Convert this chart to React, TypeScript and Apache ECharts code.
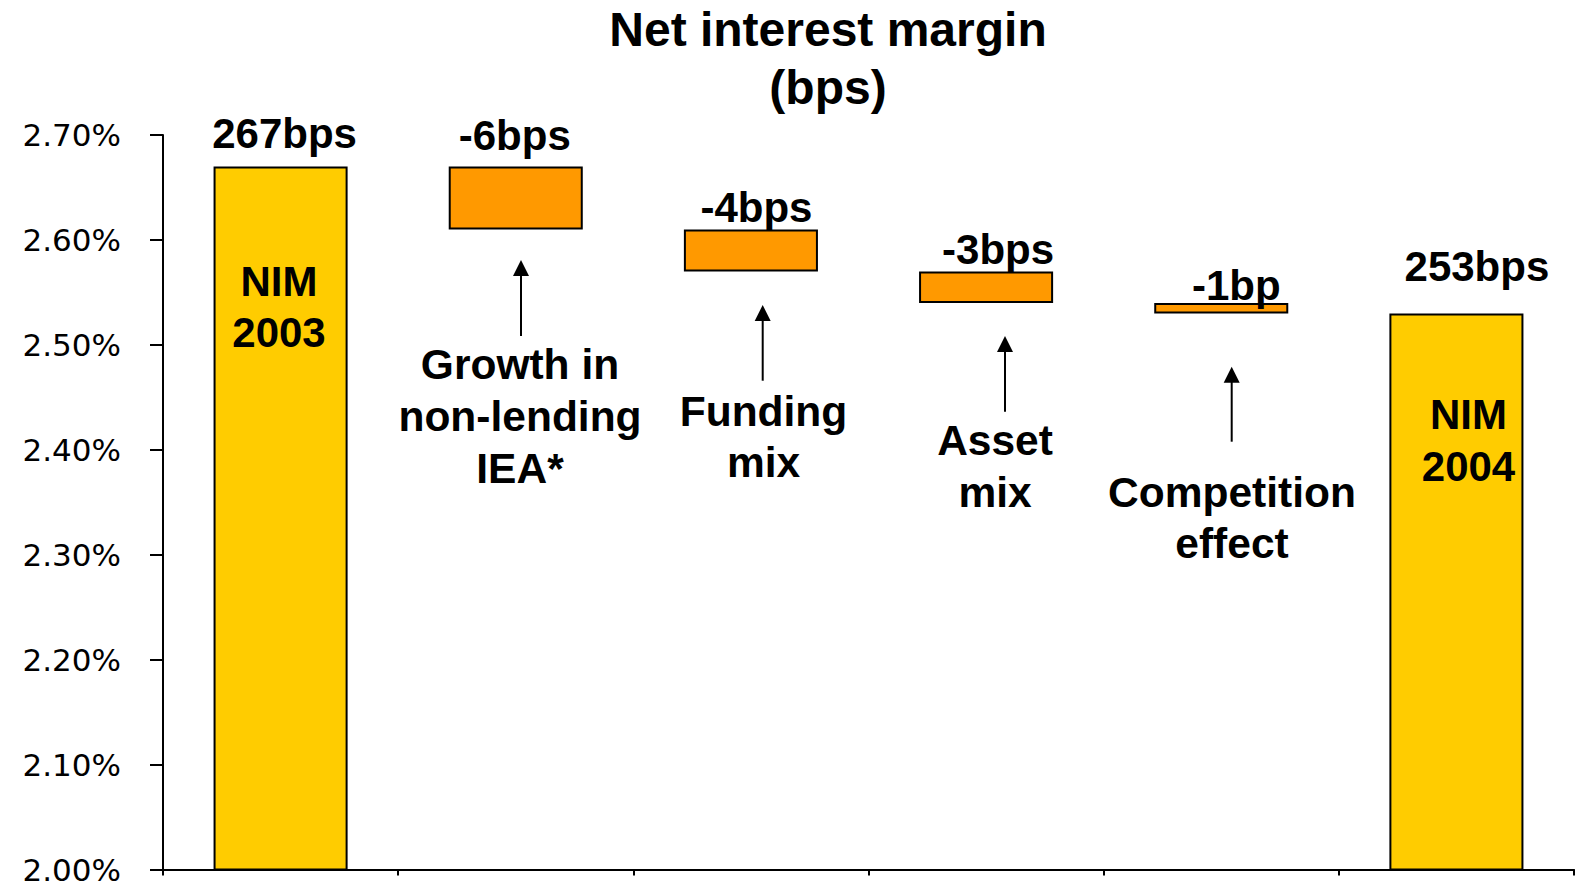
import React, { useEffect, useRef } from "react";
import * as echarts from "echarts";

const categories = ["NIM 2003", "Growth in non-lending IEA*", "Funding mix", "Asset mix", "Competition effect", "NIM 2004"];
const startNim = 2.67;
const changes = [-0.06, -0.04, -0.03, -0.01];
const endNim = 2.53;
const valueLabels = ["267bps", "-6bps", "-4bps", "-3bps", "-1bp", "253bps"];
const yTicks = [2.0, 2.1, 2.2, 2.3, 2.4, 2.5, 2.6, 2.7];

const FONT = "Liberation Sans, Arial, Helvetica, sans-serif";
const YELLOW = "#FFCC00";
const ORANGE = "#FF9900";

// label nudges [dx, dy] per bar (layout only)
const labelNudge: number[][] = [
  [4, -12],
  [-1, -10],
  [5.5, -0.5],
  [12, -0.5],
  [15, 3.5],
  [20.5, -26],
];

function arrow(x: number, tip: number, bottom: number) {
  return [
    { type: "line", z: 100, shape: { x1: x, y1: tip + 12, x2: x, y2: bottom }, style: { stroke: "#000", lineWidth: 2 } },
    {
      type: "polygon",
      z: 100,
      shape: { points: [[x, tip], [x - 8, tip + 16], [x + 8, tip + 16]] },
      style: { fill: "#000" },
    },
  ];
}

function note(x: number, y: number, text: string, lh: number, size = 42.5) {
  return {
    type: "text",
    z: 100,
    x,
    y,
    style: {
      text,
      fill: "#000",
      fontFamily: FONT,
      fontWeight: "bold",
      fontSize: size,
      align: "center",
      verticalAlign: "middle",
      lineHeight: lh,
    },
  };
}

export default function App() {
  const ref = useRef<HTMLDivElement>(null);
  useEffect(() => {
    if (!ref.current) return;
    const chart = echarts.init(ref.current, undefined, { renderer: "svg" });

    const n = categories.length;
    const totalData: any[] = [];
    const baseData: any[] = [];
    const changeData: any[] = [];
    let level = startNim;
    const lbl = (i: number) => ({
      show: true,
      position: "top",
      distance: 0,
      offset: labelNudge[i],
      formatter: valueLabels[i],
      color: "#000",
      fontFamily: FONT,
      fontWeight: "bold",
      fontSize: 42,
      lineHeight: 42,
    });
    for (let i = 0; i < n; i++) {
      if (i === 0) {
        totalData.push({ value: startNim, label: lbl(i) });
        baseData.push("-");
        changeData.push("-");
      } else if (i === n - 1) {
        totalData.push({ value: endNim, label: lbl(i) });
        baseData.push("-");
        changeData.push("-");
      } else {
        const c = changes[i - 1];
        const next = +(level + c).toFixed(4);
        totalData.push("-");
        baseData.push(Math.min(level, next));
        changeData.push({ value: +Math.abs(c).toFixed(4), label: lbl(i) });
        level = next;
      }
    }

    const graphic: any[] = [
      note(828, 58.2, "Net interest margin\n(bps)", 58, 48),
      ...arrow(521, 260, 336),
      ...arrow(762.7, 305, 380.7),
      ...arrow(1005, 336, 411.7),
      ...arrow(1231.7, 366.7, 441.7),
      note(520, 416, "Growth in\nnon-lending\nIEA*", 52),
      note(763.5, 436.5, "Funding\nmix", 51),
      note(995, 466, "Asset\nmix", 52),
      note(1232, 518, "Competition\neffect", 50.5),
      note(279, 307.3, "NIM\n2003", 51.3, 42),
      note(1468.5, 440.3, "NIM\n2004", 51.5, 42),
    ];

    chart.setOption({
      animation: false,
      backgroundColor: "#fff",
      grid: { left: 163, right: 1, top: 135, bottom: 13, containLabel: false },
      xAxis: {
        type: "category",
        data: categories,
        boundaryGap: true,
        axisLine: { show: true, lineStyle: { color: "#000", width: 2 } },
        axisTick: { show: true, alignWithLabel: false, length: 6, lineStyle: { color: "#000", width: 2 } },
        axisLabel: { show: false },
        splitLine: { show: false },
      },
      yAxis: {
        type: "value",
        min: yTicks[0],
        max: yTicks[yTicks.length - 1],
        interval: 0.1,
        axisLine: { show: true, lineStyle: { color: "#000", width: 2 } },
        axisTick: { show: true, inside: false, length: 13, lineStyle: { color: "#000", width: 2 } },
        splitLine: { show: false },
        axisLabel: {
          margin: 42,
          color: "#000",
          fontFamily: "DejaVu Sans, sans-serif",
          fontSize: 31,
          lineHeight: 24,
          formatter: (v: number) => v.toFixed(2) + "%",
        },
      },
      series: [
        {
          name: "NIM",
          type: "bar",
          stack: "w",
          barWidth: "57%",
          data: totalData,
          itemStyle: { color: YELLOW, borderColor: "#000", borderWidth: 2 },
        },
        {
          name: "Base",
          type: "bar",
          stack: "w",
          barWidth: "57%",
          data: baseData,
          itemStyle: { color: "transparent", borderWidth: 0 },
          emphasis: { disabled: true },
          silent: true,
        },
        {
          name: "Change",
          type: "bar",
          stack: "w",
          barWidth: "57%",
          data: changeData,
          itemStyle: { color: ORANGE, borderColor: "#000", borderWidth: 2 },
        },
      ],
      graphic,
    });
    return () => chart.dispose();
  }, []);

  return <div ref={ref} style={{ position: "fixed", left: 0, top: 0, width: 1575, height: 885, background: "#fff" }} />;
}
